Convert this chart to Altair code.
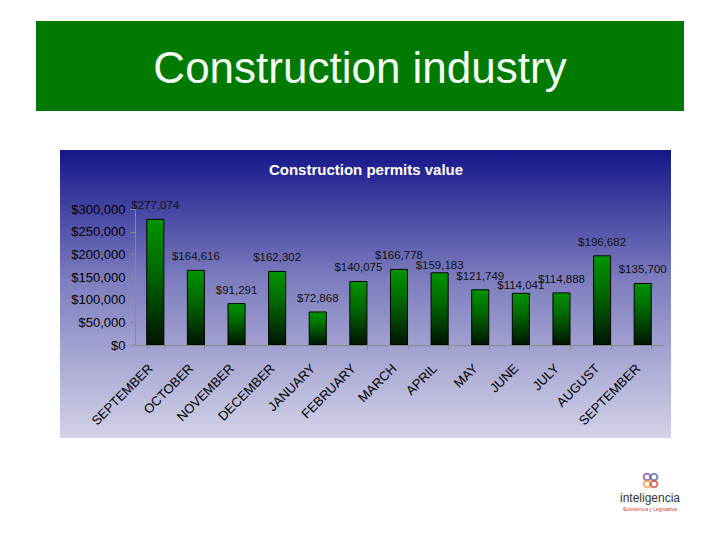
import altair as alt
import pandas as pd

# ---- data ----
months = ["SEPTEMBER", "OCTOBER", "NOVEMBER", "DECEMBER", "JANUARY", "FEBRUARY",
          "MARCH", "APRIL", "MAY", "JUNE", "JULY", "AUGUST", "SEPTEMBER"]
values = [277074, 164616, 91291, 162302, 72868, 140075,
          166778, 159183, 121749, 114041, 114888, 196682, 135700]
y_ticks = [0, 50000, 100000, 150000, 200000, 250000, 300000]

slide_title = "Construction industry"
chart_title = "Construction permits value"

df = pd.DataFrame({"idx": list(range(len(months))), "month": months, "value": values})
one = alt.Data(values=[{"a": 1}])

FONT = "Liberation Sans"
label_expr = "[" + ",".join("'%s'" % m for m in months) + "][datum.value]"

# ---- decorative slide elements ----
banner = alt.Chart(one).mark_rect(color="#007a00").encode(
    x=alt.value(-99), x2=alt.value(549), y=alt.value(-188), y2=alt.value(-98))

panel = alt.Chart(one).mark_rect(
    color=alt.Gradient(
        gradient="linear", x1=0, y1=0, x2=0, y2=1,
        stops=[alt.GradientStop(color="#15158a", offset=0),
               alt.GradientStop(color="#7d7dbf", offset=0.45),
               alt.GradientStop(color="#d2d2e8", offset=1)])
).encode(x=alt.value(-75), x2=alt.value(536), y=alt.value(-59), y2=alt.value(229))

title_txt = alt.Chart(one).mark_text(
    font=FONT, fontSize=44, color="#f5fff5", align="center", baseline="alphabetic"
).encode(x=alt.value(225), y=alt.value(-126), text=alt.value(slide_title))

chart_title_txt = alt.Chart(one).mark_text(
    font=FONT, fontSize=15, fontWeight="bold", color="white", align="center",
    baseline="alphabetic"
).encode(x=alt.value(231), y=alt.value(-34), text=alt.value(chart_title))

# ---- bars ----
x_enc = alt.X("idx:O", sort=None,
              scale=alt.Scale(paddingInner=0.58, paddingOuter=0.29),
              axis=alt.Axis(title=None, labelExpr=label_expr, labelAngle=-45,
                            labelAlign="right", labelBaseline="middle",
                            labelFont=FONT, labelFontSize=13, labelColor="black",
                            labelPadding=17, labelOffset=-5, tickBand="extent",
                            tickSize=4, labelOverlap=False,
                            tickColor="#8a8a8a", domainColor="#8a8a8a", zindex=1))
y_enc = alt.Y("value:Q",
              scale=alt.Scale(domain=[0, 300000], nice=False),
              axis=alt.Axis(title=None, values=y_ticks, format="$,.0f", grid=False,
                            labelFont=FONT, labelFontSize=13, labelColor="black",
                            labelOverlap=False, labelFlush=False,
                            tickSize=5, labelPadding=5, tickColor="#8a8a8a",
                            domainColor="#8a8a8a", zindex=1))

bars = alt.Chart(df).mark_bar(
    stroke="black", strokeWidth=1,
    color=alt.Gradient(
        gradient="linear", x1=0, y1=0, x2=0, y2=1,
        stops=[alt.GradientStop(color="#009400", offset=0),
               alt.GradientStop(color="#006a00", offset=0.4),
               alt.GradientStop(color="#001400", offset=1)])
).encode(x=x_enc, y=y_enc)

labels = alt.Chart(df).transform_filter(
    "datum.idx != 7 && datum.idx != 9"
).mark_text(font=FONT, fontSize=11.5, color="#111111", baseline="middle", dy=-13).encode(
    x=x_enc, y=y_enc,
    text=alt.Text("value:Q", format="$,.0f"))

labels_low = alt.Chart(df).transform_filter(
    "datum.idx == 7 || datum.idx == 9"
).mark_text(font=FONT, fontSize=11.5, color="#111111", baseline="middle", dy=-7).encode(
    x=x_enc, y=y_enc,
    text=alt.Text("value:Q", format="$,.0f"))

# ---- logo ----
logo_ring_colors = ["#7b3f98", "#3c5fb0", "#f39a1e", "#d9342b"]
rings = [alt.Chart(one).mark_point(shape="circle", size=45, filled=False,
                                   strokeWidth=2, color=c).encode(
    x=alt.value(px), y=alt.value(py))
    for c, (px, py) in zip(logo_ring_colors,
                           [(512, 268), (519, 268), (512, 275), (519, 275)])]

logo_txt = alt.Chart(one).mark_text(
    font=FONT, fontSize=12, color="#333333", align="center", baseline="alphabetic"
).encode(x=alt.value(515), y=alt.value(293), text=alt.value("inteligencia"))

logo_sub = alt.Chart(one).mark_text(
    font=FONT, fontSize=5, color="#d9342b", align="center", baseline="alphabetic"
).encode(x=alt.value(515), y=alt.value(302), text=alt.value("Económica y Legislativa"))

chart = alt.layer(
    banner, panel, title_txt, chart_title_txt, bars, labels, labels_low,
    *rings, logo_txt, logo_sub
).properties(
    width=528, height=136,
    padding={"left": 127, "top": 201, "right": 49, "bottom": 180},
    autosize="none",
).configure(background="white").configure_view(strokeWidth=0)

chart.save("out.html", embed_options={"renderer": "svg", "actions": False})
